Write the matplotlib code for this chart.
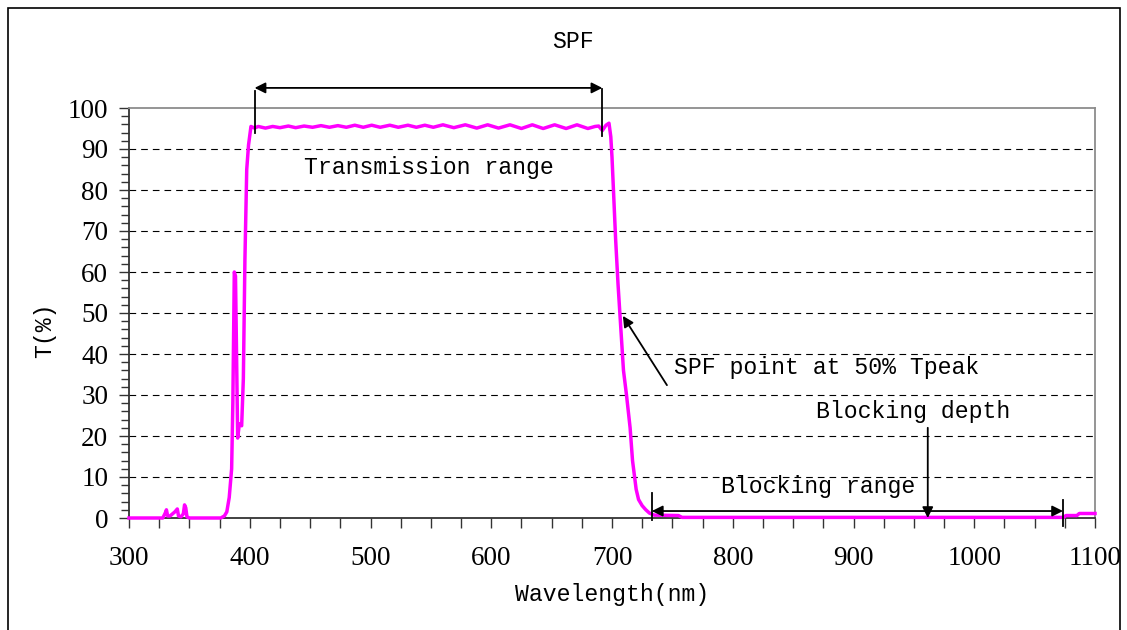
import matplotlib
matplotlib.use('Agg')
import matplotlib.pyplot as plt
from matplotlib.patches import Rectangle
from matplotlib.ticker import MultipleLocator

# spectrum (nm, %T)
wavelength = [300, 328, 330, 331, 332, 334, 336, 338, 340, 341, 343, 345, 346, 347, 348, 350,
              370, 376, 379, 381, 383, 385, 386, 387.2, 388.2, 390, 391.4, 393.3, 394.7, 396,
              397.5, 399, 401,
              404, 407, 413, 419, 425, 432, 438, 445, 452, 459, 466, 473, 480, 487, 494, 501,
              508, 516, 523, 531, 538, 545, 552, 560, 569, 578.5, 588, 597, 606, 615.5, 625,
              634, 643, 652.5, 662, 671, 680, 686, 689, 692, 695, 697.5,
              699, 700, 701.5, 703, 705, 706.5, 708, 709.5, 712, 715, 717, 718.5, 720, 722,
              725, 728, 731, 735, 755, 758, 1074, 1076, 1085, 1087, 1100]
transmission = [0, 0, 1.2, 2.0, 0.5, 0.5, 1.0, 1.5, 2.2, 0.5, 0.3, 1.0, 3.2, 2.5, 0.3, 0,
                0, 0, 0.5, 1.5, 5, 12, 28, 60, 59, 19.5, 23, 22.5, 34, 63,
                85, 91, 95.5,
                95.1, 95.5, 95.1, 95.5, 95.2, 95.6, 95.2, 95.6, 95.3, 95.7, 95.3, 95.7, 95.3, 95.8, 95.3, 95.8,
                95.3, 95.8, 95.3, 95.8, 95.3, 95.8, 95.3, 95.9, 95.2, 95.9, 95.1, 95.9, 95.1, 95.9, 95.0,
                95.9, 95.0, 95.9, 95.0, 95.9, 95.0, 95.5, 95.6, 94.5, 95.8, 96.3,
                93, 88, 78, 68, 57, 50, 43, 36, 30, 22, 14, 10.5, 7, 4.5,
                3, 2, 1.2, 0.7, 0.6, 0.15, 0.15, 0.6, 0.6, 1.1, 1.1]

x_ticks = [300, 400, 500, 600, 700, 800, 900, 1000, 1100]
y_ticks = [0, 10, 20, 30, 40, 50, 60, 70, 80, 90, 100]
grid_levels = y_ticks[1:-1]

title = 'SPF'
x_label = 'Wavelength(nm)'
y_label = 'T(%)'

serif = 'Liberation Serif'
mono = 'Liberation Mono'
fs = 16.7

fig = plt.figure(figsize=(11.27, 6.30), dpi=100)
ax = fig.add_axes([129 / 1127, 1 - 518 / 630, (1095 - 129) / 1127, (518 - 108) / 630])

# dashed horizontal grid (no line at 0 and 100)
for lv in grid_levels:
    ax.axhline(lv, color='black', lw=0.8, dashes=(6, 4.5), zorder=1)

ax.plot(wavelength, transmission, color='#ff00ff', lw=2.5, zorder=3, clip_on=False)

ax.set_xlim(300, 1100)
ax.set_ylim(0, 100)
ax.set_xticks(x_ticks)
ax.set_yticks(y_ticks)
ax.xaxis.set_minor_locator(MultipleLocator(25))
ax.yaxis.set_minor_locator(MultipleLocator(2))
ax.tick_params(axis='x', which='both', direction='out', length=7, width=1, color='#333333',
               pad=13)
ax.tick_params(axis='y', which='major', direction='out', length=7, width=1, color='#333333',
               pad=8)
ax.tick_params(axis='y', which='minor', direction='out', length=6, width=1, color='#333333')
for lab in ax.get_xticklabels() + ax.get_yticklabels():
    lab.set_fontfamily(serif)
    lab.set_fontsize(19.5)

ax.spines['left'].set_color('#333333')
ax.spines['bottom'].set_color('#333333')
ax.spines['top'].set_color('#8c8c8c')
ax.spines['right'].set_color('#8c8c8c')
for s in ax.spines.values():
    s.set_linewidth(1.3)

ax.set_xlabel(x_label, fontfamily=mono, fontsize=fs, labelpad=9)
fig.text(45 / 1127, 1 - 330 / 630, y_label, fontfamily=mono, fontsize=fs,
         rotation=90, ha='center', va='center')
fig.text(573 / 1127, 1 - 42 / 630, title, fontfamily=mono, fontsize=fs,
         ha='center', va='center')

# annotations
arrow2 = dict(arrowstyle='<|-|>', color='black', lw=1.3, mutation_scale=16,
              shrinkA=0, shrinkB=0)
arrow1 = dict(arrowstyle='-|>', color='black', lw=1.3, mutation_scale=16,
              shrinkA=0, shrinkB=0)

# transmission range
ax.annotate('', xy=(404, 104.9), xytext=(692, 104.9), arrowprops=arrow2,
            annotation_clip=False)
ax.plot([404, 404], [93.8, 104.2], color='black', lw=1.3, clip_on=False, zorder=4)
ax.plot([692, 692], [93.2, 104.6], color='black', lw=1.3, clip_on=False, zorder=4)
ax.text(548, 85.4, 'Transmission range', fontfamily=mono, fontsize=fs,
        ha='center', va='center')

# 50% point
ax.annotate('', xy=(709, 49.3), xytext=(745.5, 32.4), arrowprops=arrow1)
ax.text(751, 36.8, 'SPF point at 50% Tpeak', fontfamily=mono, fontsize=fs,
        ha='left', va='center')

# blocking depth
ax.annotate('', xy=(961.5, 0), xytext=(961.5, 22), arrowprops=arrow1)
ax.text(949, 25.9, 'Blocking depth', fontfamily=mono, fontsize=fs,
        ha='center', va='center')

# blocking range
ax.annotate('', xy=(733, 1.7), xytext=(1073.5, 1.7), arrowprops=arrow2)
ax.plot([733, 733], [-0.5, 6], color='black', lw=1.3, clip_on=False, zorder=4)
ax.plot([1073.5, 1073.5], [-2, 4.4], color='black', lw=1.3, clip_on=False, zorder=4)
ax.text(871, 7.6, 'Blocking range', fontfamily=mono, fontsize=fs,
        ha='center', va='center')

# outer frame
fig.add_artist(Rectangle((8 / 1127, -0.02), (1120 - 8) / 1127, 1 - 8 / 630 + 0.02,
                         transform=fig.transFigure, fill=False, ec='black', lw=1.2))

fig.savefig('out.png', dpi=100)
